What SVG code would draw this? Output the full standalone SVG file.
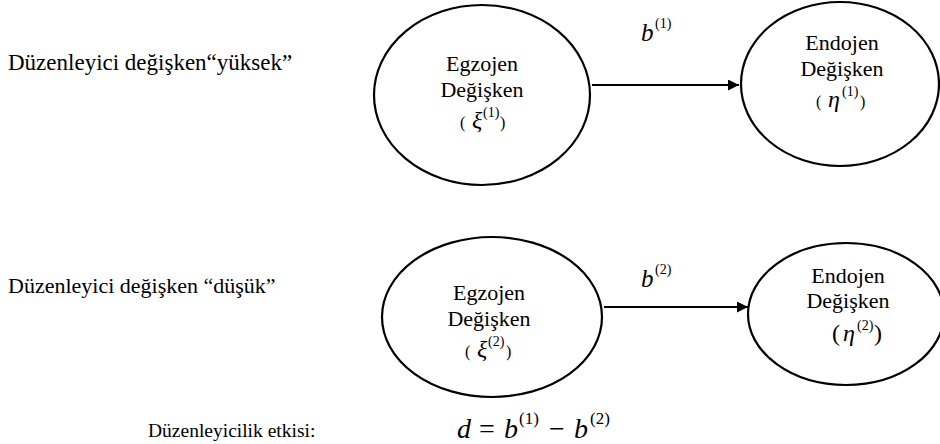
<svg xmlns="http://www.w3.org/2000/svg" width="940" height="444" viewBox="0 0 940 444">
<style>
text{font-family:"Liberation Serif","Times New Roman",serif;fill:#000}
.lbl{font-size:22px}
.nt{font-size:22px;text-anchor:middle}
.m{font-style:italic}
.node{fill:#fff;stroke:#000;stroke-width:2.2}
.edge{stroke:#000;stroke-width:2.2;fill:none}
</style>
<defs>
<marker id="ah" viewBox="0 0 10 10" refX="10" refY="5" markerWidth="6" markerHeight="5" markerUnits="strokeWidth" orient="auto">
<path d="M0,0 L10,5 L0,10 z" fill="#000"/>
</marker>
</defs>
<rect width="940" height="444" fill="#fff"/>
<text class="lbl" x="8" y="70" style="font-size:23px">Düzenleyici değişken“yüksek”</text>
<text class="lbl" x="8" y="293">Düzenleyici değişken “düşük”</text>
<text class="lbl" x="148" y="437" style="font-size:19.5px">Düzenleyicilik etkisi:</text>
<g font-size="28">
<text x="457" y="438" class="m">d</text>
<text x="479" y="438">=</text>
<text x="504" y="438" class="m">b</text>
<text x="519" y="424" font-size="17">(1)</text>
<text x="549" y="438">−</text>
<text x="574" y="438" class="m">b</text>
<text x="590" y="424" font-size="17">(2)</text>
</g>
<g id="connectors">
<line class="edge" x1="592" y1="85" x2="739" y2="85" marker-end="url(#ah)"/>
<line class="edge" x1="604" y1="307" x2="748" y2="307" marker-end="url(#ah)"/>
<text x="641" y="41" font-size="25" class="m">b</text>
<text x="655" y="28" font-size="14">(1)</text>
<text x="641" y="287" font-size="25" class="m">b</text>
<text x="655" y="274" font-size="14">(2)</text>
</g>
<g id="egzojen1">
<ellipse class="node" cx="482" cy="95" rx="108" ry="90"/>
<text class="nt" x="482" y="71">Egzojen</text>
<text class="nt" x="482" y="97">Değişken</text>
<text x="460" y="128">(</text>
<text x="472" y="128" class="m" font-size="24">ξ</text>
<text x="483" y="117" font-size="14">(1)</text>
<text x="500" y="128">)</text>
</g>
<g id="endojen1">
<ellipse class="node" cx="840" cy="84" rx="99" ry="82"/>
<text class="nt" x="842" y="50">Endojen</text>
<text class="nt" x="842" y="76">Değişken</text>
<text x="816" y="107">(</text>
<text x="828" y="107" class="m" font-size="24">η</text>
<text x="842" y="96" font-size="14">(1)</text>
<text x="860" y="107">)</text>
</g>
<g id="egzojen2">
<ellipse class="node" cx="492" cy="317" rx="110" ry="80"/>
<text class="nt" x="489" y="300">Egzojen</text>
<text class="nt" x="489" y="326">Değişken</text>
<text x="465" y="357">(</text>
<text x="477" y="357" class="m" font-size="24">ξ</text>
<text x="488" y="346" font-size="14">(2)</text>
<text x="506" y="357">)</text>
</g>
<g id="endojen2">
<ellipse class="node" cx="846" cy="314" rx="98" ry="71"/>
<text class="nt" x="848" y="283">Endojen</text>
<text class="nt" x="848" y="308">Değişken</text>
<text x="832" y="341" font-size="24">(</text>
<text x="843" y="341" class="m" font-size="24">η</text>
<text x="857" y="330" font-size="14">(2)</text>
<text x="874" y="341" font-size="24">)</text>
</g>
</svg>
